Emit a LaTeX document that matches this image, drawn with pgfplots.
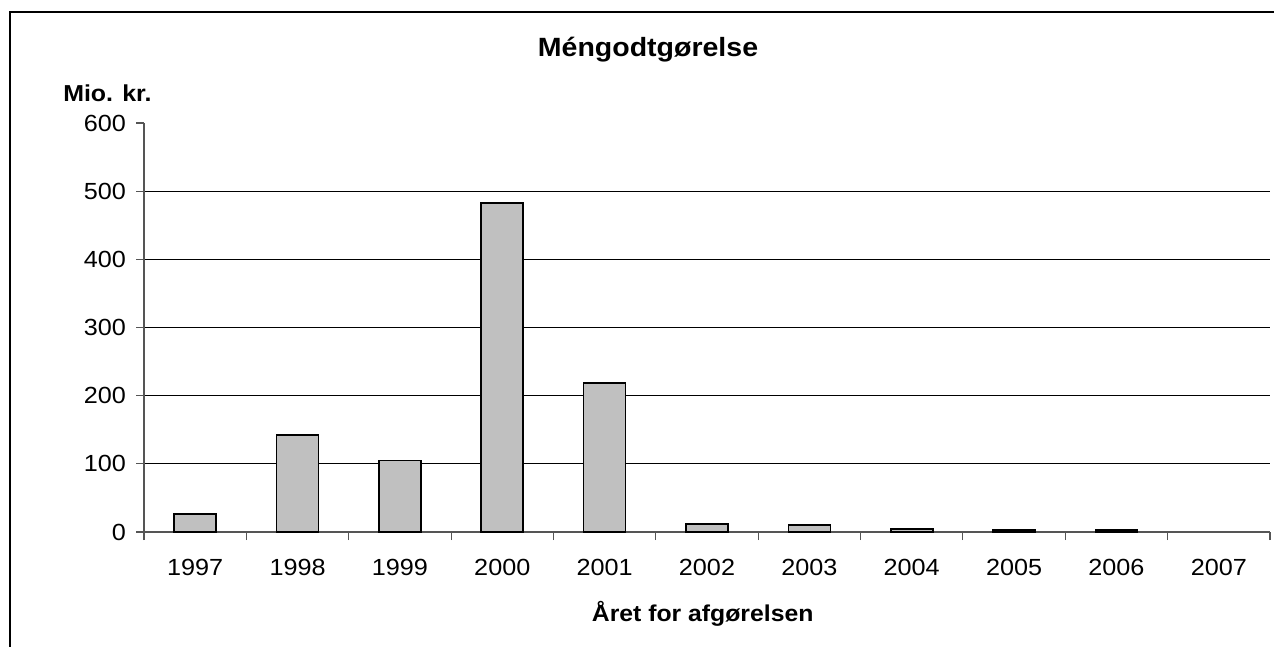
\documentclass[border=0pt]{standalone}
\usepackage{pgfplots}
\pgfplotsset{compat=1.18}
\usepackage{fontspec}
\setmainfont[FakeStretch=1.08]{Liberation Sans}
\definecolor{barfill}{HTML}{C0C0C0}
\definecolor{axgray}{HTML}{555555}
\begin{document}
\begin{tikzpicture}
\useasboundingbox (0,0) rectangle (955.5pt,484.5pt);
\draw[line width=1.4pt] (7.5pt,-1pt) -- (7.5pt,475.5pt) -- (957pt,475.5pt);
\begin{axis}[
  scale only axis, width=844.5pt, height=306.75pt,
  at={(108pt,85.5pt)}, anchor=south west,
  xmin=-0.5, xmax=10.5, ymin=0, ymax=600,
  axis lines*=left,
  axis line style={axgray, line width=0.8pt},
  ytick={0,100,...,500}, extra y ticks={600}, extra y tick style={grid=none},
  ymajorgrids, major grid style={black, line width=0.6pt},
  xtick={0,...,10},
  xticklabels={1997,1998,1999,2000,2001,2002,2003,2004,2005,2006,2007},
  every major x tick/.append style={draw=none},
  minor xtick={-0.5,0.5,...,10.5},
  major tick length=6pt, minor tick length=6pt, tick align=outside,
  tick style={axgray, line width=0.8pt},
  /pgf/number format/assume math mode=true,
  ticklabel style={font=\fontsize{17.5}{20}\selectfont},
  yticklabel style={xshift=-4pt},
  xticklabel style={yshift=-11pt},
  ybar, bar width=31.5pt,
  clip=false,
]
\addplot[fill=barfill, draw=black, line width=1.2pt] coordinates {
  (0,26) (1,142) (2,105) (3,483) (4,219) (5,12) (6,10) (7,4.5) (8,2.5) (9,2.5)
};
\end{axis}
\node[anchor=base, font=\bfseries\fontsize{19.8}{23}\selectfont] at (486pt,441.75pt) {Méngodtgørelse};
\node[anchor=base west, inner sep=0pt, font=\bfseries\fontsize{17.3}{20}\selectfont] at (47.25pt,408pt) {Mio. kr.};
\node[anchor=base, font=\bfseries\fontsize{17.2}{20}\selectfont] at (527pt,18.75pt) {Året for afgørelsen};
\end{tikzpicture}
\end{document}
